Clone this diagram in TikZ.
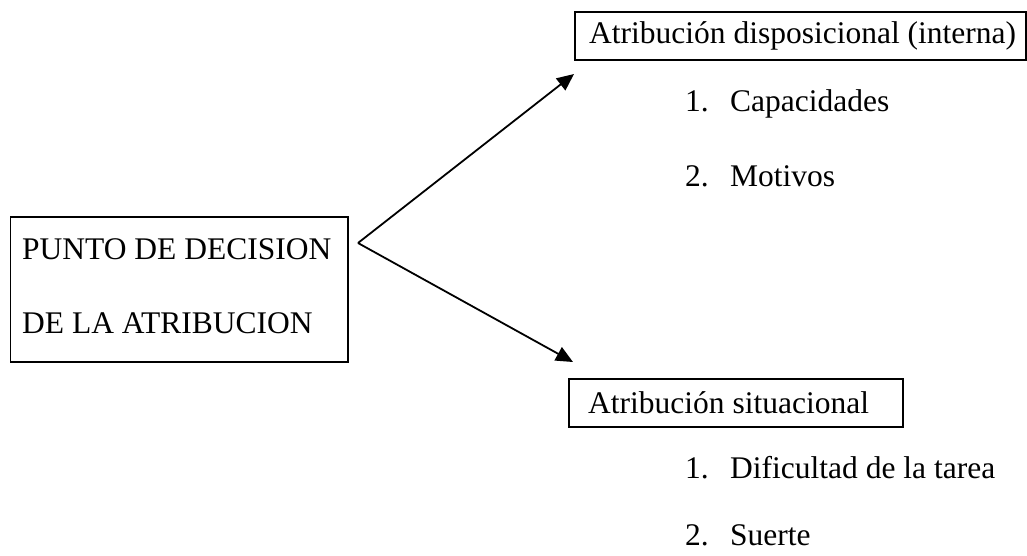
\documentclass[tikz,border=0pt]{standalone}
\usepackage{fontspec}
\setmainfont{Liberation Serif}
\usetikzlibrary{arrows.meta}
\begin{document}
\begin{tikzpicture}[x=1pt,y=-1pt,
  box/.style={draw,line width=1.8pt,rectangle,inner sep=0pt,anchor=north west},
  txt/.style={anchor=base west,inner sep=0pt,font=\fontsize{31.5}{38}\selectfont},
  conn/.style={line width=1.8pt,-{Triangle[length=17pt,width=15pt]}}]
\useasboundingbox (0,0) rectangle (1027,555);
% boxes
\node[box,minimum width=337.5pt,minimum height=145pt] (b1) at (9.5,216) {};
\node[box,minimum width=451pt,minimum height=48pt] (b2) at (574,11) {};
\node[box,minimum width=334pt,minimum height=48pt] (b3) at (568,378) {};
% texts
\node[txt] (t1a) at (22,259) {PUNTO DE DECISION};
\node[txt] (t1b) at (22,333) {DE LA ATRIBUCION};
\node[txt] (t2) at (589,43) {Atribución disposicional (interna)};
\node[txt] (t3) at (588,413) {Atribución situacional};
\node[txt] (n1) at (685,111) {1.};
\node[txt] (i1) at (730,111) {Capacidades};
\node[txt] (n2) at (685,186) {2.};
\node[txt] (i2) at (730,186) {Motivos};
\node[txt] (n3) at (685,478) {1.};
\node[txt] (i3) at (730,478) {Dificultad de la tarea};
\node[txt] (n4) at (685,545) {2.};
\node[txt] (i4) at (730,545) {Suerte};
% connectors
\coordinate (v) at (358,243);
\coordinate (ta) at (574,74);
\coordinate (tb) at (573,362);
\draw[conn] (v) -- (ta);
\draw[conn] (v) -- (tb);
\end{tikzpicture}
\end{document}
